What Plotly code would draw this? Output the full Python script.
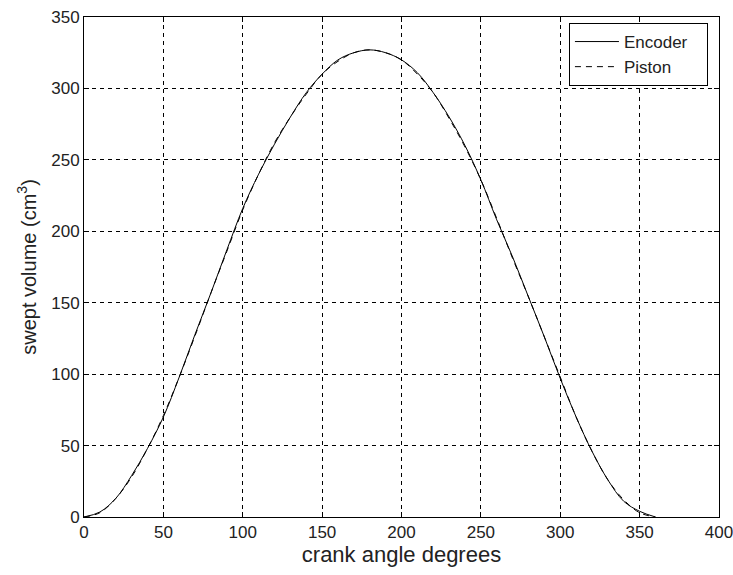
import plotly.graph_objects as go

crank_angle = [0, 10, 20, 30, 40, 50, 60, 70, 80, 90, 100, 110, 120, 130, 140, 150, 160, 170, 180,
               190, 200, 210, 220, 230, 240, 250, 260, 270, 280, 290, 300, 310, 320, 330, 340, 350, 360]
encoder_volume = [0, 3.5, 13, 29, 48, 70, 98, 128, 157, 187, 216, 240, 261, 280, 297, 310, 320, 325, 327,
                  325, 320, 311, 297, 280, 260, 236, 208, 182, 154, 126, 97, 70, 46, 26, 11, 4, 0]
piston_volume = [0, 3, 13, 28, 48, 71, 98, 127, 157, 186, 215, 240, 262, 280, 296, 310, 319, 325, 327,
                 325, 320, 310, 297, 279, 259, 236, 209, 181, 154, 126, 98, 70, 46, 26, 12, 3, 0]

x_ticks = [0, 50, 100, 150, 200, 250, 300, 350, 400]
y_ticks = [0, 50, 100, 150, 200, 250, 300, 350]

FONT = "Liberation Sans, Arial"
PAD = "\u00a0\u00a0\u00a0"

fig = go.Figure()
fig.add_trace(go.Scatter(x=crank_angle, y=encoder_volume, mode="lines", name="Encoder" + PAD,
                         line=dict(color="black", width=1, shape="spline")))
fig.add_trace(go.Scatter(x=crank_angle, y=piston_volume, mode="lines", name="Piston" + PAD,
                         line=dict(color="black", width=1, dash="6px,5px", shape="spline")))

axis_common = dict(
    showline=True, linecolor="black", linewidth=1, mirror="ticks",
    ticks="inside", ticklen=5, tickcolor="black",
    showgrid=True, gridcolor="black", griddash="4px,4px", gridwidth=1,
    zeroline=False, automargin=False, ticklabeloverflow="allow",
    tickfont=dict(family=FONT, size=17, color="#222"),
)

fig.update_xaxes(range=[0, 400], tickvals=x_ticks, **axis_common,
                 title=dict(text="crank angle degrees", font=dict(family=FONT, size=22, color="#222"), standoff=2))
fig.update_yaxes(range=[0, 350], tickvals=y_ticks, **axis_common,
                 title=dict(text="swept volume (cm<sup>3</sup>)", font=dict(family=FONT, size=20, color="#222"), standoff=9))

fig.update_layout(
    width=733, height=575,
    margin=dict(l=84, r=14, t=17, b=58),
    plot_bgcolor="white", paper_bgcolor="white",
    legend=dict(x=0.9826, y=0.988, xanchor="right", yanchor="top",
                bordercolor="black", borderwidth=1, bgcolor="white",
                tracegroupgap=0, itemwidth=44,
                font=dict(family=FONT, size=17, color="#222")),
    showlegend=True,
)

fig.write_html("out.html", config={"displayModeBar": False},
               post_script="document.body.style.margin='0';")
